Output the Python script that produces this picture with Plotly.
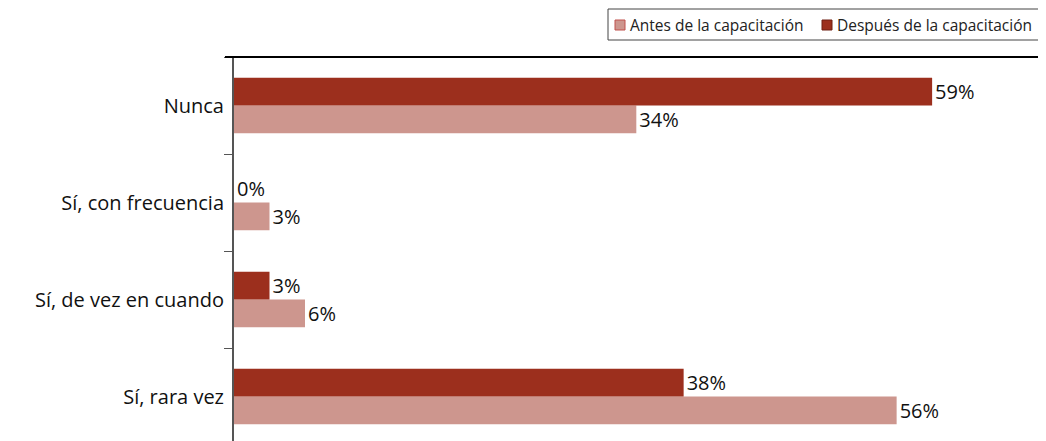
import plotly.graph_objects as go

categorias = ['Sí, rara vez', 'Sí, de vez en cuando', 'Sí, con frecuencia', 'Nunca']
antes = [56, 6, 3, 34]
despues = [38, 3, 0, 59]
nombre_antes = 'Antes de la capacitación'
nombre_despues = 'Después de la capacitación'

color_antes = '#CD968E'
color_despues = '#9C2F1D'
fuente = 'Open Sans'

fig = go.Figure()
fig.add_trace(go.Bar(
    y=categorias, x=antes, name=nombre_antes, orientation='h',
    marker=dict(color=color_antes, line=dict(width=0)),
    text=[str(v) + '%' for v in antes], textposition='outside',
    textfont=dict(size=20, color='#111111'), cliponaxis=False))
fig.add_trace(go.Bar(
    y=categorias, x=despues, name=nombre_despues, orientation='h',
    marker=dict(color=color_despues, line=dict(width=0)),
    text=[str(v) + '%' for v in despues], textposition='outside',
    textfont=dict(size=20, color='#111111'), cliponaxis=False))

# la pagina tiene 8px de margen en el body: todo se desplaza 8px
ML, MT, ALTO_PLOT, ANCHO_PLOT = 226, 49, 388, 820
fig.update_layout(
    width=1046, height=441,
    barmode='group', bargap=0.43, bargroupgap=0,
    plot_bgcolor='white', paper_bgcolor='white',
    font=dict(family=fuente, color='#111111'),
    margin=dict(l=ML, r=0, t=MT, b=4, autoexpand=False),
    showlegend=False,
)

fig.update_xaxes(range=[0, 69.3], visible=False, showgrid=False, zeroline=False)
fig.update_yaxes(type='category', categoryorder='array', categoryarray=categorias,
                 range=[-0.5, 3.5], tickson='boundaries', ticks='outside', ticklen=8,
                 tickcolor='#555555', showline=True, linecolor='#555555', linewidth=2,
                 showgrid=False, zeroline=False, ticklabelstandoff=4, automargin=False,
                 tickfont=dict(size=20, color='#111111'))

fig.add_shape(type='line', xref='paper', yref='paper', x0=-0.011, x1=1, y0=1, y1=1,
              line=dict(color='black', width=2))

# leyenda dibujada a mano (pixeles de la figura -> paper)
def px(x):
    return (x - ML) / ANCHO_PLOT

def py(y):
    return (MT + ALTO_PLOT - y) / ALTO_PLOT

fig.add_shape(type='rect', xref='paper', yref='paper', x0=px(600), x1=px(1050), y0=py(1), y1=py(32),
              line=dict(color='#444444', width=1), fillcolor='white')
items = [(607, 620, color_antes, '#C0504D', nombre_antes),
         (814, 827, color_despues, '#6E1E12', nombre_despues)]
for xm, xt, relleno, borde, nombre in items:
    fig.add_shape(type='rect', xref='paper', yref='paper', x0=px(xm), x1=px(xm + 10),
                  y0=py(12), y1=py(22), fillcolor=relleno, line=dict(color=borde, width=1))
    fig.add_annotation(x=px(xt), y=py(17), xref='paper', yref='paper', text=nombre,
                       showarrow=False, xanchor='left', yanchor='middle',
                       font=dict(size=15.5, color='#222222', family=fuente))

fig.write_html('out.html')
